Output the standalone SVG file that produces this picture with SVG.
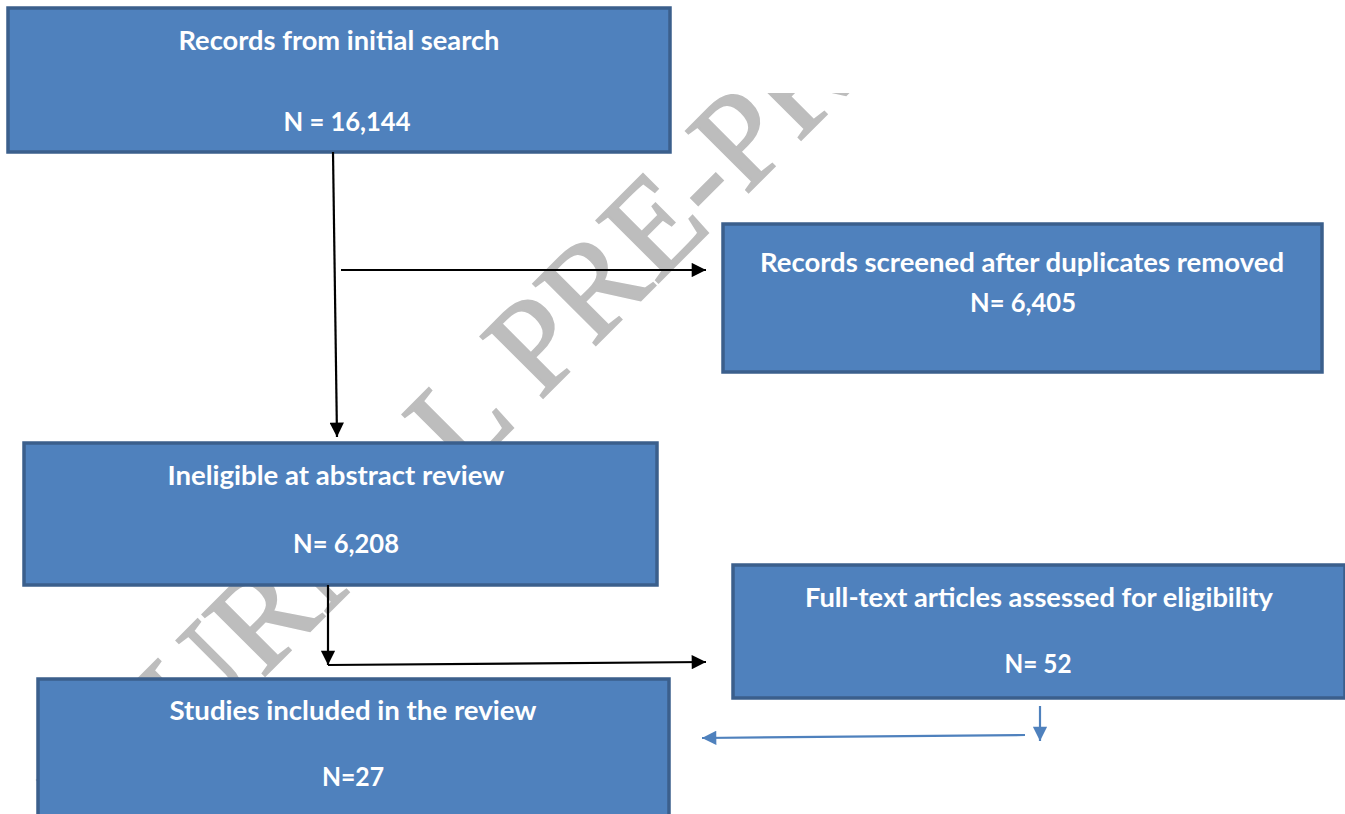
<svg xmlns="http://www.w3.org/2000/svg" width="1345" height="814" viewBox="0 0 1345 814">
<style>
.box{fill:#4f81bd;stroke:#3b5f8c;stroke-width:3.5}
.t{font-family:Lato,"Liberation Sans",sans-serif;font-weight:bold;font-size:26px;fill:#ffffff;text-anchor:middle}
.wm{font-family:"Liberation Serif",serif;font-size:134px;fill:#bdbdbd;stroke:#bdbdbd;stroke-width:2}
.k{stroke:#000;stroke-width:2.2;fill:none}
.b{stroke:#4f81bd;stroke-width:2.2;fill:none}
</style>
<defs>
<marker id="ak" viewBox="0 0 10 10" refX="10" refY="5" markerWidth="7.5" markerHeight="6.5" markerUnits="strokeWidth" orient="auto"><path d="M0,0 L10,5 L0,10 z" fill="#000"/></marker>
<marker id="ab" viewBox="0 0 10 10" refX="10" refY="5" markerWidth="7.5" markerHeight="6.5" markerUnits="strokeWidth" orient="auto"><path d="M0,0 L10,5 L0,10 z" fill="#4f81bd"/></marker>
<clipPath id="wmclip"><rect x="0" y="93" width="1345" height="721"/></clipPath>
</defs>
<rect width="1345" height="814" fill="#ffffff"/>
<g id="watermark" clip-path="url(#wmclip)">
<text class="wm" transform="translate(88,853) rotate(-45)">JOURNAL PRE-PROOF</text>
</g>
<g id="n1"><rect class="box" x="8" y="8" width="662" height="144"/>
<text class="t" x="339" y="50" textLength="321" lengthAdjust="spacingAndGlyphs">Records from initial search</text>
<text class="t" x="347" y="131" textLength="127" lengthAdjust="spacingAndGlyphs">N = 16,144</text></g>
<g id="n2"><rect class="box" x="723" y="224" width="599" height="148"/>
<text class="t" x="1022" y="272" textLength="524" lengthAdjust="spacingAndGlyphs">Records screened after duplicates removed</text>
<text class="t" x="1023" y="312" textLength="106" lengthAdjust="spacingAndGlyphs">N= 6,405</text></g>
<g id="n3"><rect class="box" x="24" y="443" width="633" height="142"/>
<text class="t" x="336" y="485" textLength="337" lengthAdjust="spacingAndGlyphs">Ineligible at abstract review</text>
<text class="t" x="346" y="553" textLength="106" lengthAdjust="spacingAndGlyphs">N= 6,208</text></g>
<g id="n4"><rect class="box" x="733" y="565" width="612" height="133"/>
<text class="t" x="1039" y="607" textLength="468" lengthAdjust="spacingAndGlyphs">Full-text articles assessed for eligibility</text>
<text class="t" x="1038" y="673" textLength="67" lengthAdjust="spacingAndGlyphs">N= 52</text></g>
<g id="n5"><rect class="box" x="38" y="679" width="631" height="140"/>
<text class="t" x="353" y="720" textLength="367" lengthAdjust="spacingAndGlyphs">Studies included in the review</text>
<text class="t" x="353" y="786" textLength="62" lengthAdjust="spacingAndGlyphs">N=27</text></g>
<g id="connectors">
<path class="k" d="M333,152 L337,437" marker-end="url(#ak)"/>
<path class="k" d="M341,270 L706,270" marker-end="url(#ak)"/>
<path class="k" d="M328,585 L328,665" marker-end="url(#ak)"/>
<path class="k" d="M328,665 L706,662" marker-end="url(#ak)"/>
<path class="b" d="M1040,706 L1040,741" marker-end="url(#ab)"/>
<path class="b" d="M1025,735 L702,738" marker-end="url(#ab)"/>
</g>
</svg>
